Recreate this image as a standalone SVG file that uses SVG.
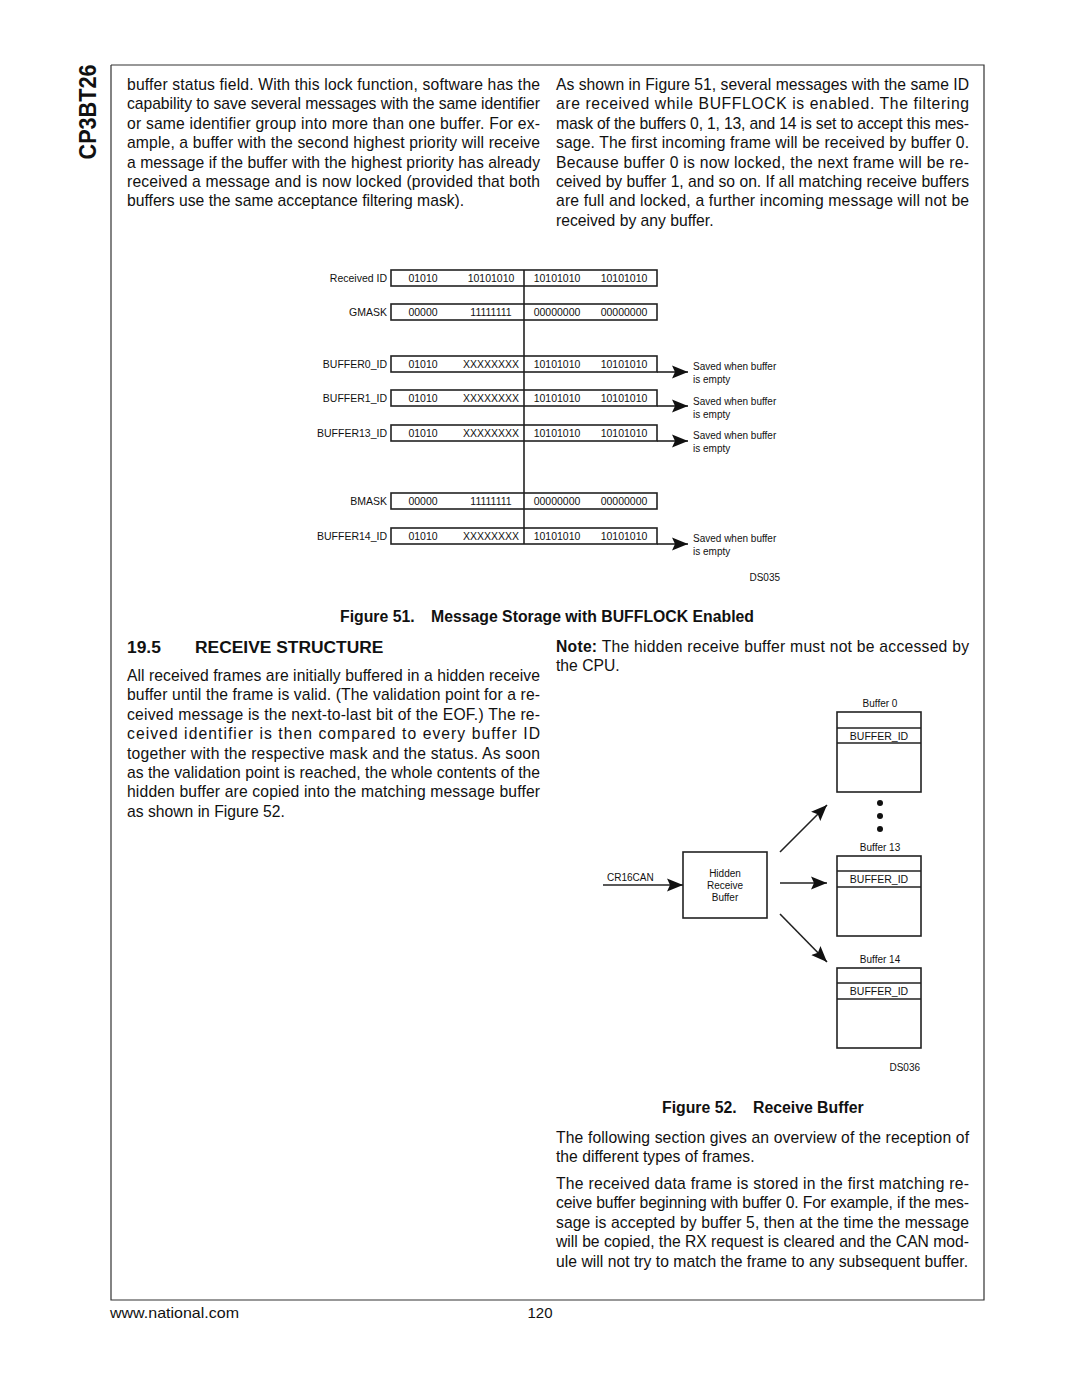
<svg xmlns="http://www.w3.org/2000/svg" width="1080" height="1397" viewBox="0 0 1080 1397">
<style>
text{font-family:"Liberation Sans",Arial,sans-serif;fill:#111}
.b{font-size:15.7px}
.bold{font-weight:bold}
.cap{font-weight:bold;font-size:15.8px}
.f{font-size:10.5px}
.s{font-size:10px}
.frame{fill:none;stroke:#333;stroke-width:1.2}
.box{fill:#fff;stroke:#222;stroke-width:1.6}
.ln{stroke:#222;stroke-width:1.6;fill:none}
.r{text-anchor:end}
.m{text-anchor:middle}
</style>
<defs>
<marker id="arr" markerWidth="17" markerHeight="14" refX="16" refY="7" orient="auto" markerUnits="userSpaceOnUse">
<path d="M0,0.5 L16,7 L0,13.5 L3,7 Z" fill="#111"/>
</marker>
</defs>
<rect width="1080" height="1397" fill="#fff"/>

<!-- page frame -->
<path class="frame" d="M111,65 V1300 H984 V65 H111"/>
<text class="bold" transform="translate(96,112) rotate(-90)" text-anchor="middle" font-size="24" textLength="95" lengthAdjust="spacingAndGlyphs">CP3BT26</text>

<!-- top text -->
<g class="b">
<text x="127" y="90" textLength="413" lengthAdjust="spacing">buffer status field. With this lock function, software has the</text>
<text x="127" y="109.4" textLength="413" lengthAdjust="spacing">capability to save several messages with the same identifier</text>
<text x="127" y="128.8" textLength="413" lengthAdjust="spacing">or same identifier group into more than one buffer. For ex-</text>
<text x="127" y="148.2" textLength="413" lengthAdjust="spacing">ample, a buffer with the second highest priority will receive</text>
<text x="127" y="167.6" textLength="413" lengthAdjust="spacing">a message if the buffer with the highest priority has already</text>
<text x="127" y="187" textLength="413" lengthAdjust="spacing">received a message and is now locked (provided that both</text>
<text x="127" y="206.4">buffers use the same acceptance filtering mask).</text>

<text x="556" y="90" textLength="413" lengthAdjust="spacing">As shown in Figure 51, several messages with the same ID</text>
<text x="556" y="109.4" textLength="413" lengthAdjust="spacing">are received while BUFFLOCK is enabled. The filtering</text>
<text x="556" y="128.8" textLength="413" lengthAdjust="spacing">mask of the buffers 0, 1, 13, and 14 is set to accept this mes-</text>
<text x="556" y="148.2" textLength="413" lengthAdjust="spacing">sage. The first incoming frame will be received by buffer 0.</text>
<text x="556" y="167.6" textLength="413" lengthAdjust="spacing">Because buffer 0 is now locked, the next frame will be re-</text>
<text x="556" y="187" textLength="413" lengthAdjust="spacing">ceived by buffer 1, and so on. If all matching receive buffers</text>
<text x="556" y="206.4" textLength="413" lengthAdjust="spacing">are full and locked, a further incoming message will not be</text>
<text x="556" y="225.8">received by any buffer.</text>
</g>

<!-- Figure 51 -->
<g id="fig51">
<g id="connectors51">
<line class="ln" x1="657" y1="372" x2="688" y2="372" marker-end="url(#arr)"/>
<line class="ln" x1="657" y1="406" x2="688" y2="406" marker-end="url(#arr)"/>
<line class="ln" x1="657" y1="441" x2="688" y2="441" marker-end="url(#arr)"/>
<line class="ln" x1="657" y1="544" x2="688" y2="544" marker-end="url(#arr)"/>
</g>
<g id="row-received">
<text class="f r" x="387" y="282">Received ID</text>
<rect class="box" x="391" y="270" width="266" height="16"/>
<text class="f m" x="423" y="282">01010</text><text class="f m" x="491" y="282">10101010</text><text class="f m" x="557" y="282">10101010</text><text class="f m" x="624" y="282">10101010</text>
</g>
<g id="row-gmask">
<text class="f r" x="387" y="316">GMASK</text>
<rect class="box" x="391" y="304" width="266" height="16"/>
<text class="f m" x="423" y="316">00000</text><text class="f m" x="491" y="316">11111111</text><text class="f m" x="557" y="316">00000000</text><text class="f m" x="624" y="316">00000000</text>
</g>
<g id="row-buffer0">
<text class="f r" x="387" y="368">BUFFER0_ID</text>
<rect class="box" x="391" y="356" width="266" height="16"/>
<text class="f m" x="423" y="368">01010</text><text class="f m" x="491" y="368">XXXXXXXX</text><text class="f m" x="557" y="368">10101010</text><text class="f m" x="624" y="368">10101010</text>
<text class="s" x="693" y="370">Saved when buffer</text><text class="s" x="693" y="383">is empty</text>
</g>
<g id="row-buffer1">
<text class="f r" x="387" y="402">BUFFER1_ID</text>
<rect class="box" x="391" y="390" width="266" height="16"/>
<text class="f m" x="423" y="402">01010</text><text class="f m" x="491" y="402">XXXXXXXX</text><text class="f m" x="557" y="402">10101010</text><text class="f m" x="624" y="402">10101010</text>
<text class="s" x="693" y="405">Saved when buffer</text><text class="s" x="693" y="418">is empty</text>
</g>
<g id="row-buffer13">
<text class="f r" x="387" y="437">BUFFER13_ID</text>
<rect class="box" x="391" y="425" width="266" height="16"/>
<text class="f m" x="423" y="437">01010</text><text class="f m" x="491" y="437">XXXXXXXX</text><text class="f m" x="557" y="437">10101010</text><text class="f m" x="624" y="437">10101010</text>
<text class="s" x="693" y="439">Saved when buffer</text><text class="s" x="693" y="452">is empty</text>
</g>
<g id="row-bmask">
<text class="f r" x="387" y="505">BMASK</text>
<rect class="box" x="391" y="493" width="266" height="16"/>
<text class="f m" x="423" y="505">00000</text><text class="f m" x="491" y="505">11111111</text><text class="f m" x="557" y="505">00000000</text><text class="f m" x="624" y="505">00000000</text>
</g>
<g id="row-buffer14">
<text class="f r" x="387" y="540">BUFFER14_ID</text>
<rect class="box" x="391" y="528" width="266" height="16"/>
<text class="f m" x="423" y="540">01010</text><text class="f m" x="491" y="540">XXXXXXXX</text><text class="f m" x="557" y="540">10101010</text><text class="f m" x="624" y="540">10101010</text>
<text class="s" x="693" y="542">Saved when buffer</text><text class="s" x="693" y="555">is empty</text>
</g>
<line class="ln" x1="524" y1="270" x2="524" y2="544"/>
<text class="s r" x="780" y="581">DS035</text>
</g>

<text class="cap" x="340" y="622">Figure 51.</text>
<text class="cap" x="431" y="622">Message Storage with BUFFLOCK Enabled</text>

<!-- section heading -->
<text class="bold" x="127" y="653" font-size="17.4">19.5</text>
<text class="bold" x="195" y="653" font-size="17.4">RECEIVE STRUCTURE</text>

<g class="b">
<text x="127" y="681" textLength="413" lengthAdjust="spacing">All received frames are initially buffered in a hidden receive</text>
<text x="127" y="700.4" textLength="413" lengthAdjust="spacing">buffer until the frame is valid. (The validation point for a re-</text>
<text x="127" y="719.8" textLength="413" lengthAdjust="spacing">ceived message is the next-to-last bit of the EOF.) The re-</text>
<text x="127" y="739.2" textLength="413" lengthAdjust="spacing">ceived identifier is then compared to every buffer ID</text>
<text x="127" y="758.6" textLength="413" lengthAdjust="spacing">together with the respective mask and the status. As soon</text>
<text x="127" y="778" textLength="413" lengthAdjust="spacing">as the validation point is reached, the whole contents of the</text>
<text x="127" y="797.4" textLength="413" lengthAdjust="spacing">hidden buffer are copied into the matching message buffer</text>
<text x="127" y="816.8">as shown in Figure 52.</text>

<text x="556" y="652" textLength="413" lengthAdjust="spacing"><tspan class="bold">Note:</tspan>  The hidden receive buffer must not be accessed by</text>
<text x="556" y="671.4">the CPU.</text>
</g>

<!-- Figure 52 -->
<g id="fig52">
<g id="buffer0">
<text class="s m" x="880" y="707">Buffer 0</text>
<rect class="box" x="837" y="712" width="84" height="80"/>
<line class="ln" x1="837" y1="728" x2="921" y2="728"/><line class="ln" x1="837" y1="743" x2="921" y2="743"/>
<text class="f m" x="879" y="740">BUFFER_ID</text>
</g>
<g id="dots">
<circle cx="880" cy="803" r="3" fill="#111"/><circle cx="880" cy="816" r="3" fill="#111"/><circle cx="880" cy="829" r="3" fill="#111"/>
</g>
<g id="buffer13">
<text class="s m" x="880" y="851">Buffer 13</text>
<rect class="box" x="837" y="856" width="84" height="80"/>
<line class="ln" x1="837" y1="871" x2="921" y2="871"/><line class="ln" x1="837" y1="887" x2="921" y2="887"/>
<text class="f m" x="879" y="883">BUFFER_ID</text>
</g>
<g id="buffer14">
<text class="s m" x="880" y="963">Buffer 14</text>
<rect class="box" x="837" y="968" width="84" height="80"/>
<line class="ln" x1="837" y1="983" x2="921" y2="983"/><line class="ln" x1="837" y1="999" x2="921" y2="999"/>
<text class="f m" x="879" y="995">BUFFER_ID</text>
</g>
<g id="hidden">
<rect class="box" x="683" y="852" width="84" height="66"/>
<text class="s m" x="725" y="877">Hidden</text>
<text class="s m" x="725" y="889">Receive</text>
<text class="s m" x="725" y="901">Buffer</text>
</g>
<g id="connectors52">
<text class="s" x="607" y="881">CR16CAN</text>
<line class="ln" x1="603" y1="885" x2="683" y2="885" marker-end="url(#arr)"/>
<line class="ln" x1="780" y1="883" x2="827" y2="883" marker-end="url(#arr)"/>
<line class="ln" x1="780" y1="852" x2="827" y2="805" marker-end="url(#arr)"/>
<line class="ln" x1="780" y1="914" x2="827" y2="962" marker-end="url(#arr)"/>
</g>
<text class="s r" x="920" y="1071">DS036</text>
</g>

<text class="cap" x="662" y="1113">Figure 52.</text>
<text class="cap" x="753" y="1113">Receive Buffer</text>

<g class="b">
<text x="556" y="1143" textLength="413" lengthAdjust="spacing">The following section gives an overview of the reception of</text>
<text x="556" y="1162.4">the different types of frames.</text>
<text x="556" y="1189" textLength="413" lengthAdjust="spacing">The received data frame is stored in the first matching re-</text>
<text x="556" y="1208.4" textLength="413" lengthAdjust="spacing">ceive buffer beginning with buffer 0. For example, if the mes-</text>
<text x="556" y="1227.8" textLength="413" lengthAdjust="spacing">sage is accepted by buffer 5, then at the time the message</text>
<text x="556" y="1247.2" textLength="413" lengthAdjust="spacing">will be copied, the RX request is cleared and the CAN mod-</text>
<text x="556" y="1266.6" textLength="412" lengthAdjust="spacing">ule will not try to match the frame to any subsequent buffer.</text>
</g>

<text x="110" y="1318" font-size="15" textLength="129" lengthAdjust="spacingAndGlyphs">www.national.com</text>
<text x="540" y="1318" font-size="15" text-anchor="middle">120</text>
</svg>
